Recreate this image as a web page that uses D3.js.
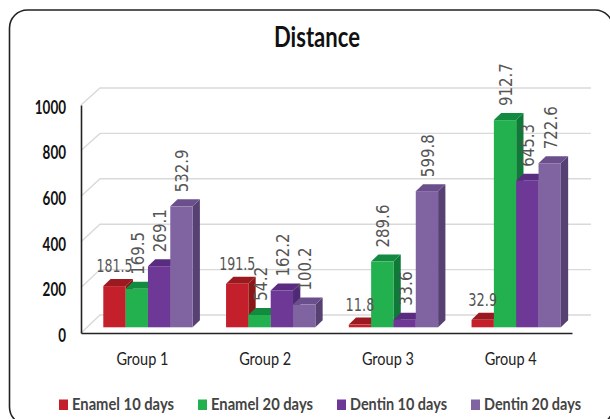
<!DOCTYPE html>
<html>
<head>
<meta charset="utf-8">
<style>
  html, body { margin: 0; padding: 0; background: #fff; }
  svg { display: block; }
</style>
<script src="https://cdn.jsdelivr.net/npm/d3@7/dist/d3.min.js"></script>
</head>
<body>
<script>
const groups = ["Group 1", "Group 2", "Group 3", "Group 4"];
const seriesNames = ["Enamel 10 days", "Enamel 20 days", "Dentin 10 days", "Dentin 20 days"];
const enamel10 = [181.5, 191.5, 11.8, 32.9];
const enamel20 = [169.5, 54.2, 289.6, 912.7];
const dentin10 = [269.1, 162.2, 33.6, 645.3];
const dentin20 = [532.9, 100.2, 599.8, 722.6];
const yTicks = [0, 200, 400, 600, 800, 1000];
const frontColors = ["#c4202b", "#23b14f", "#6d3896", "#8064a2"];
const topColors = ["#9a1a1f", "#128a40", "#5a2c80", "#6a4f8c"];
const sideColors = ["#8a1717", "#0f7a38", "#4f2a74", "#574072"];
const legendX = [59, 198, 337, 471];
const legendTextWidth = [102, 102, 97, 97];

const seriesValues = [enamel10, enamel20, dentin10, dentin20];
const width = 610, height = 419;
const depthX = 7.3, depthY = 7;
const sans = "Lato, 'Noto Sans', sans-serif";

const svg = d3.select("body").append("svg").attr("width", width).attr("height", height);

// Chart frame runs past the right and bottom edges of the page
svg.append("rect")
  .attr("x", 9.5).attr("y", 10).attr("width", 603.5).attr("height", 415)
  .attr("rx", 18).attr("ry", 18)
  .attr("fill", "#fff").attr("stroke", "#222").attr("stroke-width", 1.6);

// Three value scales: axis plane, back wall and bar fronts
const yAxisScale = d3.scaleLinear().domain([0, 1000]).range([333, 105]);
const yWall = d3.scaleLinear().domain([0, 1000]).range([315, 88]);
const yBar = d3.scaleLinear().domain([0, 1000]).range([327.3, 100.3]);

const xGroup = d3.scaleBand().domain(groups).range([81, 572]).paddingInner(0).paddingOuter(0);
const xSeries = d3.scaleBand().domain(d3.range(4)).range([22.3, 111.6]);

// Back wall gridlines with their short diagonals on the side wall
const grid = svg.append("g").attr("fill", "none").attr("stroke", "#d9d9d9").attr("stroke-width", 1.4);
yTicks.forEach(t => {
  grid.append("path").attr("d", d3.line()([
    [81, yAxisScale(t)], [100, yWall(t)], [591, yWall(t)]
  ]));
});

// Bars, painted left to right so each front covers its neighbour's side face
groups.forEach((g, gi) => {
  seriesValues.forEach((vals, si) => {
    const v = vals[gi];
    const x0 = xGroup(g) + xSeries(si);
    const x1 = x0 + xSeries.bandwidth();
    const yT = yBar(v), yB = yBar(0);
    const bar = svg.append("g");
    bar.append("path").attr("fill", sideColors[si]).attr("d", d3.line()([
      [x1, yT], [x1 + depthX, yT - depthY], [x1 + depthX, yB - depthY], [x1, yB]
    ]) + "Z");
    bar.append("path").attr("fill", topColors[si]).attr("d", d3.line()([
      [x0, yT], [x0 + depthX, yT - depthY], [x1 + depthX, yT - depthY], [x1, yT]
    ]) + "Z");
    bar.append("rect").attr("x", x0).attr("y", yT)
      .attr("width", xSeries.bandwidth()).attr("height", yB - yT)
      .attr("fill", frontColors[si]);
  });
});

// Axis lines
const yAxis = d3.axisLeft(yAxisScale).tickValues(yTicks).tickSize(0).tickPadding(15).tickFormat(d3.format("d"));
const yG = svg.append("g").attr("transform", "translate(81,0)").call(yAxis);
yG.select(".domain").attr("stroke", "#222").attr("stroke-width", 1.6);
yG.selectAll("text")
  .attr("y", 2.5)
  .attr("font-family", sans).attr("font-weight", 700)
  .attr("font-size", 18).attr("fill", "#111")
  .attr("textLength", d => String(d).length * 7.8)
  .attr("lengthAdjust", "spacingAndGlyphs");

const xAxis = d3.axisBottom(xGroup).tickSize(0).tickPadding(20);
const xG = svg.append("g").attr("transform", "translate(0,333)").call(xAxis);
xG.select(".domain").attr("stroke", "#222").attr("stroke-width", 1.6);
xG.selectAll("text")
  .attr("font-family", sans)
  .attr("font-size", 17).attr("fill", "#222")
  .attr("textLength", 52).attr("lengthAdjust", "spacingAndGlyphs");

// Value labels: the first series reads horizontally, the others run upward
const labels = svg.append("g")
  .attr("font-family", "'DejaVu Sans', sans-serif").attr("fill", "#555");
groups.forEach((g, gi) => {
  seriesValues.forEach((vals, si) => {
    const v = vals[gi];
    const cx = xGroup(g) + xSeries(si) + xSeries.bandwidth() / 2;
    const base = yBar(v) - 14;
    const txt = d3.format(".1f")(v);
    if (si === 0) {
      labels.append("text").attr("x", cx).attr("y", base)
        .attr("text-anchor", "middle").attr("font-size", 18)
        .attr("textLength", txt.length * 7.2).attr("lengthAdjust", "spacingAndGlyphs").text(txt);
    } else {
      labels.append("text")
        .attr("transform", `translate(${cx + 7},${base}) rotate(-90)`)
        .attr("font-size", 17)
        .attr("textLength", txt.length * 8.6).attr("lengthAdjust", "spacingAndGlyphs").text(txt);
    }
  });
});

// Title
svg.append("text").attr("x", 317).attr("y", 47).attr("text-anchor", "middle")
  .attr("font-family", sans).attr("font-weight", 700)
  .attr("font-size", 28).attr("fill", "#111")
  .attr("textLength", 86).attr("lengthAdjust", "spacingAndGlyphs").text("Distance");

// Legend
const legend = svg.append("g");
seriesNames.forEach((name, i) => {
  legend.append("rect").attr("x", legendX[i]).attr("y", 399.5)
    .attr("width", 9).attr("height", 10.5).attr("fill", frontColors[i]);
  legend.append("text").attr("x", legendX[i] + 13).attr("y", 409.5)
    .attr("font-family", sans).attr("font-weight", 700)
    .attr("font-size", 17).attr("fill", "#444")
    .attr("textLength", legendTextWidth[i]).attr("lengthAdjust", "spacingAndGlyphs").text(name);
});
</script>
</body>
</html>
